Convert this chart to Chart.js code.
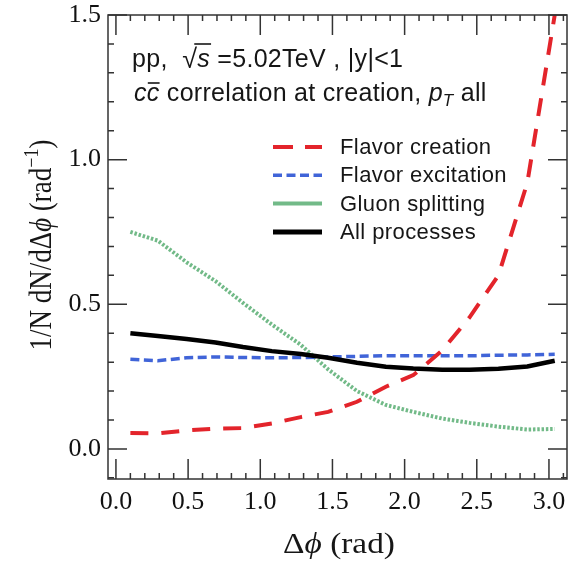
<!DOCTYPE html>
<html>
<head>
<meta charset="utf-8">
<script src="https://cdn.jsdelivr.net/npm/chart.js@4.4.0/dist/chart.umd.min.js"></script>
<style>
  html, body { margin: 0; padding: 0; background: #fff; }
  canvas { display: block; }
</style>
</head>
<body>
<canvas id="plot" width="572" height="563"></canvas>
<script>
// bin centres of the delta-phi histogram (rad)
const phiBins = [0.10, 0.29, 0.49, 0.69, 0.88, 1.08, 1.28, 1.47, 1.67, 1.87, 2.06, 2.26, 2.45, 2.65, 2.85, 3.04];

// values
const flavorCreation   = [0.055, 0.054, 0.064, 0.070, 0.072, 0.088, 0.110, 0.128, 0.163, 0.215, 0.255, 0.340, 0.455, 0.600, 0.920, 1.500];
const flavorExcitation = [0.310, 0.305, 0.315, 0.318, 0.316, 0.315, 0.316, 0.318, 0.320, 0.322, 0.322, 0.322, 0.322, 0.324, 0.325, 0.327];
const gluonSplitting   = [0.750, 0.720, 0.645, 0.580, 0.505, 0.430, 0.360, 0.275, 0.200, 0.152, 0.128, 0.105, 0.090, 0.077, 0.067, 0.069];
const allProcesses     = [0.400, 0.390, 0.380, 0.368, 0.352, 0.338, 0.328, 0.315, 0.298, 0.284, 0.278, 0.274, 0.274, 0.277, 0.285, 0.305];

const xTicks = [0, 0.5, 1.0, 1.5, 2.0, 2.5, 3.0];
const yTicks = [0, 0.5, 1.0, 1.5];
const seriesNames = ['Flavor creation', 'Flavor excitation', 'Gluon splitting', 'All processes'];

const RED = '#e3242b';
const BLUE = '#4064d8';
const GREEN = '#72ba88';
const SERIF = '"Liberation Serif", "Times New Roman", serif';
const SANS = '"Liberation Sans", Arial, sans-serif';

function toPoints(values) {
    return phiBins.map((x, i) => ({ x: x, y: values[i] }));
}

// draws a run of text pieces with different fonts, returns the end x
function drawRich(ctx, x, y, parts, measureOnly) {
    parts.forEach((p) => {
        ctx.font = p.font;
        const w = ctx.measureText(p.text).width;
        if (!measureOnly) {
            ctx.fillText(p.text, x, y + (p.dy || 0));
            if (p.bar) {
                ctx.beginPath();
                ctx.lineWidth = 1.6;
                ctx.moveTo(x + (p.barFrom || 0), y - p.bar);
                ctx.lineTo(x + w + (p.barExtra || 0), y - p.bar);
                ctx.stroke();
            }
        }
        x += w;
    });
    return x;
}

// box round the plot with inward ticks on all four sides
const framePlugin = {
    id: 'frame',
    afterDraw(chart) {
        const { ctx, chartArea: a, scales } = chart;
        const x = scales.x, y = scales.y;
        ctx.save();
        ctx.strokeStyle = '#333';
        ctx.lineWidth = 1.5;
        ctx.strokeRect(a.left, a.top, a.right - a.left, a.bottom - a.top);
        ctx.beginPath();
        for (let i = 0; i <= 31; i++) {
            const px = x.getPixelForValue(i / 10);
            if (px < a.left || px > a.right) continue;
            const len = i % 5 === 0 ? 20 : 6;
            ctx.moveTo(px, a.bottom); ctx.lineTo(px, a.bottom - len);
            ctx.moveTo(px, a.top); ctx.lineTo(px, a.top + len);
        }
        for (let i = -1; i <= 15; i++) {
            const py = y.getPixelForValue(i / 10);
            if (py < a.top - 1 || py > a.bottom + 1) continue;
            const len = i % 5 === 0 ? 19 : 6;
            ctx.moveTo(a.left, py); ctx.lineTo(a.left + len, py);
            ctx.moveTo(a.right, py); ctx.lineTo(a.right - len, py);
        }
        ctx.stroke();
        ctx.restore();
    }
};

// axis titles, the two label lines and the legend
const textPlugin = {
    id: 'texts',
    afterDraw(chart) {
        const { ctx, chartArea: a } = chart;
        ctx.save();
        ctx.fillStyle = '#161616';
        ctx.strokeStyle = '#161616';
        ctx.textBaseline = 'alphabetic';

        // x title (the original is a bit wider than the font)
        const xt = [
            { text: 'Δ', font: '29px ' + SERIF },
            { text: 'ϕ', font: 'italic 29px ' + SERIF },
            { text: ' (rad)', font: '29px ' + SERIF }
        ];
        const xw = drawRich(ctx, 0, 0, xt, true) * 1.15;
        ctx.save();
        ctx.translate(339 - xw / 2, 553);
        ctx.scale(1.15, 1);
        drawRich(ctx, 0, 0, xt);
        ctx.restore();

        // y title, rotated
        const yt = [
            { text: '1/N dN/dΔ', font: '27px ' + SERIF },
            { text: 'ϕ', font: 'italic 27px ' + SERIF },
            { text: ' (rad', font: '27px ' + SERIF },
            { text: '−1', font: '18px ' + SERIF, dy: -11 },
            { text: ')', font: '27px ' + SERIF }
        ];
        const yw = drawRich(ctx, 0, 0, yt, true);
        ctx.save();
        ctx.translate(51, 245);
        ctx.rotate(-Math.PI / 2);
        ctx.scale(1, 1.14);
        drawRich(ctx, -yw / 2, 0, yt);
        ctx.restore();

        // label lines
        ctx.letterSpacing = '0.3px';
        const lx = a.left + 24;
        let cx = drawRich(ctx, lx, 67, [{ text: 'pp,  ', font: '25px ' + SANS }]);
        ctx.font = '27px ' + SANS;
        const rootW = ctx.measureText('√').width;
        drawRich(ctx, cx, 68, [{ text: '√', font: '27px ' + SANS }]);
        drawRich(ctx, cx + rootW, 67, [
            { text: 's', font: 'italic 25px ' + SANS, bar: 23, barFrom: -3, barExtra: 1 },
            { text: ' =5.02TeV , |y|<1', font: '25px ' + SANS }
        ]);
        drawRich(ctx, lx + 2, 101, [
            { text: 'c', font: 'italic 25px ' + SANS },
            { text: 'c', font: 'italic 25px ' + SANS, bar: 18, barFrom: 1 },
            { text: ' correlation at creation, ', font: '25px ' + SANS },
            { text: 'p', font: 'italic 25px ' + SANS },
            { text: 'T', font: 'italic 17px ' + SANS, dy: 5 },
            { text: ' all', font: '25px ' + SANS }
        ]);

        // legend
        ctx.letterSpacing = '0.4px';
        const rows = [
            { color: RED, width: 4, dash: [20, 12] },
            { color: BLUE, width: 3.5, dash: [9, 4.5] },
            { color: GREEN, width: 4, dash: [] },
            { color: '#000', width: 5, dash: [] }
        ];
        rows.forEach((r, i) => {
            const ly = 147 + i * 28.3;
            ctx.beginPath();
            ctx.setLineDash(r.dash);
            ctx.strokeStyle = r.color;
            ctx.lineWidth = r.width;
            ctx.moveTo(273, ly);
            ctx.lineTo(322, ly);
            ctx.stroke();
            ctx.setLineDash([]);
            ctx.font = '22px ' + SANS;
            ctx.textBaseline = 'middle';
            ctx.fillText(seriesNames[i], 340, ly + 1);
        });
        ctx.restore();
    }
};

new Chart(document.getElementById('plot').getContext('2d'), {
    type: 'line',
    data: {
        datasets: [
            {
                label: seriesNames[3], data: toPoints(allProcesses),
                borderColor: '#000', borderWidth: 4.5, order: 1
            },
            {
                label: seriesNames[0], data: toPoints(flavorCreation),
                borderColor: RED, borderWidth: 4, borderDash: [18, 13], order: 2
            },
            {
                label: seriesNames[1], data: toPoints(flavorExcitation),
                borderColor: BLUE, borderWidth: 3.5, borderDash: [9, 4.5], order: 3
            },
            {
                label: seriesNames[2], data: toPoints(gluonSplitting),
                borderColor: GREEN, borderWidth: 4, borderDash: [2.5, 1.8], order: 4
            }
        ]
    },
    options: {
        responsive: false,
        animation: false,
        devicePixelRatio: 1,
        layout: { padding: { top: 15, right: 5, left: 0, bottom: 0 } },
        elements: { point: { radius: 0 }, line: { tension: 0, fill: false } },
        plugins: { legend: { display: false }, tooltip: { enabled: false } },
        scales: {
            x: {
                type: 'linear', min: -0.055, max: 3.125,
                afterBuildTicks: (s) => { s.ticks = xTicks.map((v) => ({ value: v })); },
                afterFit: (s) => { s.height = 84; s.paddingLeft = 0; s.paddingRight = 0; },
                grid: { display: false, drawTicks: false },
                border: { display: false },
                ticks: {
                    padding: 10, autoSkip: false, maxRotation: 0, color: '#111',
                    font: { family: SERIF, size: 26, lineHeight: 1 },
                    callback: (v) => v.toFixed(1)
                }
            },
            y: {
                type: 'linear', min: -0.104, max: 1.5,
                afterBuildTicks: (s) => { s.ticks = yTicks.map((v) => ({ value: v })); },
                afterFit: (s) => { s.width = 108; s.paddingTop = 0; s.paddingBottom = 0; },
                grid: { display: false, drawTicks: false },
                border: { display: false },
                ticks: {
                    padding: 7, autoSkip: false, color: '#111',
                    font: { family: SERIF, size: 26, lineHeight: 1 },
                    callback: (v) => v.toFixed(1)
                }
            }
        }
    },
    plugins: [framePlugin, textPlugin]
});
</script>
</body>
</html>
